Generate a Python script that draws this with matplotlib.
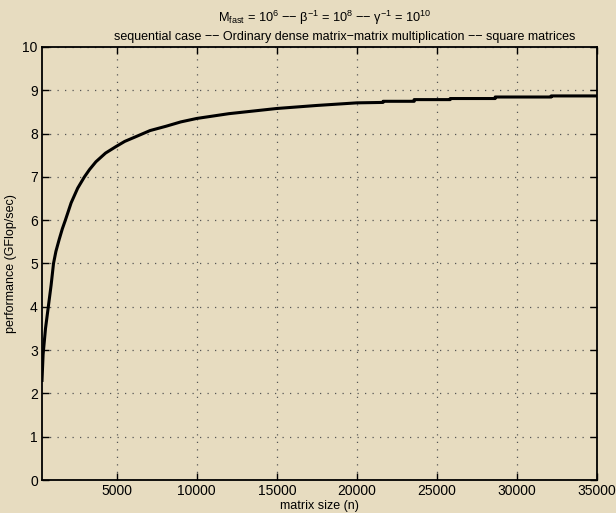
import matplotlib
matplotlib.use("Agg")
import matplotlib.pyplot as plt

plt.rcParams['font.family'] = ['Liberation Sans', 'DejaVu Sans']
plt.rcParams['mathtext.fontset'] = 'custom'
plt.rcParams['mathtext.rm'] = 'Liberation Sans'
plt.rcParams['mathtext.it'] = 'Liberation Sans'
plt.rcParams['mathtext.default'] = 'regular'

# data
matrix_size = [331, 400, 550, 725, 900, 1050, 1200, 1400, 1600, 1790, 2150,
               2560, 2980, 3300, 3700, 4300, 4950, 5500, 6200, 7080, 8080,
               9000, 10000, 12000, 15000, 17500, 20000, 21640, 21640, 23580,
               23580, 25830, 25830, 28640, 28640, 32140, 32140, 35000]
performance = [2.3, 2.9, 3.5, 4.0, 4.5, 5.0, 5.28, 5.55, 5.8, 6.0, 6.4,
               6.74, 7.0, 7.17, 7.35, 7.55, 7.7, 7.82, 7.93, 8.07, 8.17,
               8.27, 8.35, 8.46, 8.58, 8.65, 8.71, 8.72, 8.746, 8.746,
               8.785, 8.785, 8.81, 8.81, 8.845, 8.845, 8.87, 8.87]
x_ticks = [5000, 10000, 15000, 20000, 25000, 30000, 35000]
y_ticks = list(range(0, 11))

bg = '#E7DCC0'
fig = plt.figure(figsize=(6.16, 5.13), dpi=100, facecolor=bg)
ax = fig.add_axes([42/616, 33/513, 555/616, 433/513], facecolor=bg)

ax.plot(matrix_size, performance, color='black', linewidth=2.2,
        solid_joinstyle='round')

ax.set_xlim(331, 35000)
ax.set_ylim(0, 10)
ax.set_xticks(x_ticks)
ax.set_yticks(y_ticks)
ax.tick_params(direction='in', length=5, width=1, top=True, right=True,
               labelsize=10, colors='black', pad=3)
for s in ax.spines.values():
    s.set_linewidth(1.3)
    s.set_color('black')
ax.grid(True, linestyle=(0, (1, 5)), color='#555555', linewidth=0.9)

ax.set_xlabel('matrix size (n)', fontsize=9, labelpad=1)
ax.set_ylabel('performance (GFlop/sec)', fontsize=9, labelpad=4)

fig.text(325 / 616, 1 - 18 / 513,
         r'M$_{fast}$ = 10$^{6}$ −− β$^{−1}$ = 10$^{8}$ −− γ$^{−1}$ = 10$^{10}$',
         ha='center', va='center', fontsize=9.2)
fig.text(345 / 616, 1 - 37 / 513,
         'sequential case −− Ordinary dense matrix−matrix multiplication −− square matrices',
         ha='center', va='center', fontsize=9.0)

fig.savefig('out.png', dpi=100, facecolor=bg)
